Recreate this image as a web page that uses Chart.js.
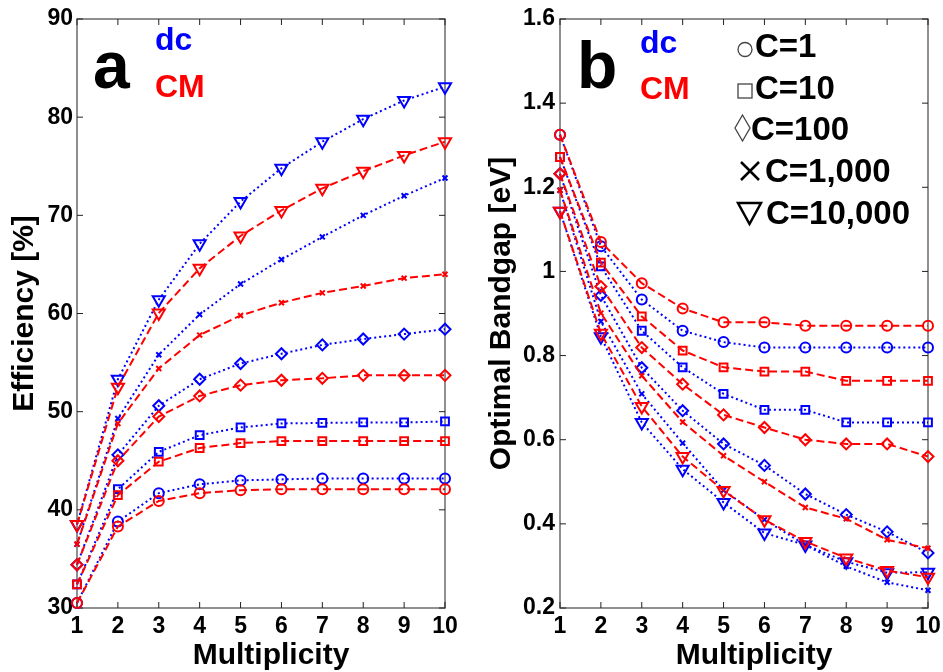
<!DOCTYPE html>
<html lang="en">
<head>
    <meta charset="UTF-8">
    <title>Multiplicity: efficiency and optimal bandgap</title>
    <script src="https://cdn.jsdelivr.net/npm/chart.js"></script>
    <style>
        body {
            margin: 0;
            background: #ffffff;
            width: 943px;
            height: 672px;
            overflow: hidden;
            position: relative;
        }
        .panel {
            position: absolute;
            top: 0;
            height: 672px;
        }
        #panelA { left: 0; width: 470px; }
        #panelB { left: 470px; width: 473px; }
    </style>
</head>
<body>
    <div class="panel" id="panelA"><canvas id="effChart"></canvas></div>
    <div class="panel" id="panelB"><canvas id="gapChart"></canvas></div>

    <script>
        const multiplicity = [1, 2, 3, 4, 5, 6, 7, 8, 9, 10];
        const concentrations = ["C=1", "C=10", "C=100", "C=1,000", "C=10,000"];

        // Efficiency [%], CM = carrier multiplication, dc = down-conversion
        const effCM_C1     = [30.5, 38.3, 40.9, 41.7, 42.0, 42.1, 42.1, 42.1, 42.1, 42.1];
        const effDC_C1     = [30.5, 38.8, 41.7, 42.6, 43.0, 43.1, 43.2, 43.2, 43.2, 43.2];
        const effCM_C10    = [32.4, 41.5, 44.9, 46.3, 46.8, 47.0, 47.0, 47.0, 47.0, 47.0];
        const effDC_C10    = [32.4, 42.1, 45.9, 47.6, 48.4, 48.8, 48.85, 48.9, 48.9, 49.0];
        const effCM_C100   = [34.4, 45.0, 49.5, 51.6, 52.7, 53.2, 53.4, 53.7, 53.7, 53.7];
        const effDC_C100   = [34.4, 45.6, 50.6, 53.3, 54.9, 55.9, 56.8, 57.4, 57.9, 58.4];
        const effCM_C1000  = [36.5, 48.8, 54.4, 57.8, 59.8, 61.1, 62.1, 62.8, 63.6, 64.0];
        const effDC_C1000  = [36.5, 49.3, 55.8, 59.9, 63.0, 65.5, 67.8, 70.0, 72.0, 73.8];
        const effCM_C10000 = [38.5, 52.5, 60.05, 64.6, 67.9, 70.5, 72.75, 74.5, 76.1, 77.5];
        const effDC_C10000 = [38.5, 53.3, 61.4, 67.1, 71.4, 74.8, 77.5, 79.8, 81.7, 83.1];

        // Optimal bandgap [eV]
        const gapCM_C1     = [1.325, 1.070, 0.972, 0.912, 0.879, 0.879, 0.871, 0.871, 0.871, 0.871];
        const gapDC_C1     = [1.325, 1.060, 0.933, 0.859, 0.832, 0.819, 0.819, 0.819, 0.819, 0.819];
        const gapCM_C10    = [1.272, 1.021, 0.893, 0.812, 0.772, 0.762, 0.762, 0.740, 0.740, 0.740];
        const gapDC_C10    = [1.272, 1.012, 0.859, 0.772, 0.709, 0.671, 0.671, 0.641, 0.641, 0.641];
        const gapCM_C100   = [1.232, 0.964, 0.819, 0.732, 0.659, 0.629, 0.600, 0.590, 0.590, 0.560];
        const gapDC_C100   = [1.232, 0.943, 0.771, 0.669, 0.590, 0.539, 0.471, 0.422, 0.381, 0.331];
        const gapCM_C1000  = [1.193, 0.901, 0.752, 0.642, 0.562, 0.500, 0.439, 0.412, 0.362, 0.342];
        const gapDC_C1000  = [1.193, 0.881, 0.709, 0.592, 0.480, 0.410, 0.350, 0.299, 0.261, 0.242];
        const gapCM_C10000 = [1.143, 0.853, 0.679, 0.560, 0.479, 0.410, 0.358, 0.319, 0.289, 0.273];
        const gapDC_C10000 = [1.143, 0.845, 0.641, 0.530, 0.451, 0.378, 0.350, 0.310, 0.284, 0.285];

        const BLUE = "#0000ff";
        const RED = "#ff0000";
        const FONT = "'Liberation Sans', Arial, sans-serif";

        // marker per concentration: circle, square, diamond, x, down triangle
        const markers = [
            { style: "circle",   radius: 5,   rotation: 0 },
            { style: "rect",     radius: 5.5, rotation: 0 },
            { style: "rectRot",  radius: 5.5, rotation: 0 },
            { style: "crossRot", radius: 3.5, rotation: 0 },
            { style: "triangle", radius: 7,   rotation: 180 }
        ];

        function series(values, color, dashed, k) {
            return {
                label: (dashed ? "CM " : "dc ") + concentrations[k],
                data: multiplicity.map((m, i) => ({ x: m, y: values[i] })),
                borderColor: color,
                backgroundColor: "transparent",
                borderWidth: 2,
                borderDash: dashed ? [8, 4] : [2, 3],
                pointStyle: markers[k].style,
                pointRadius: markers[k].radius,
                pointRotation: markers[k].rotation,
                pointBorderColor: color,
                pointBackgroundColor: "transparent",
                pointBorderWidth: 2,
                tension: 0,
                clip: false,
                order: dashed ? 0 : 1
            };
        }

        // MATLAB style frame with inward ticks on all four sides,
        // x title drawn a little right of centre
        const framePlugin = {
            id: "frame",
            beforeDatasetsDraw(chart) {
                const { ctx, chartArea: a, scales } = chart;
                ctx.save();
                ctx.strokeStyle = "#6b6b6b";
                ctx.lineWidth = 1.5;
                ctx.strokeRect(a.left, a.top, a.right - a.left, a.bottom - a.top);
                ctx.strokeStyle = "#222222";
                ctx.lineWidth = 1;
                const len = 6;
                scales.x.ticks.forEach(t => {
                    const px = scales.x.getPixelForValue(t.value);
                    ctx.beginPath();
                    ctx.moveTo(px, a.bottom); ctx.lineTo(px, a.bottom - len);
                    ctx.moveTo(px, a.top); ctx.lineTo(px, a.top + len);
                    ctx.stroke();
                });
                scales.y.ticks.forEach(t => {
                    const py = scales.y.getPixelForValue(t.value);
                    ctx.beginPath();
                    ctx.moveTo(a.left, py); ctx.lineTo(a.left + len, py);
                    ctx.moveTo(a.right, py); ctx.lineTo(a.right - len, py);
                    ctx.stroke();
                });
                ctx.font = "bold 30px " + FONT;
                ctx.fillStyle = "#000000";
                ctx.textAlign = "center";
                ctx.textBaseline = "alphabetic";
                ctx.fillText("Multiplicity", (a.left + a.right) / 2 + 10, 664);
                ctx.restore();
            }
        };

        // panel letter plus dc / CM key
        function annotations(letter, letterX, keyX, dcY, cmY) {
            return {
                id: "notes" + letter,
                afterDraw(chart) {
                    const ctx = chart.ctx;
                    ctx.save();
                    ctx.textBaseline = "alphabetic";
                    ctx.textAlign = "left";
                    ctx.font = "bold 66px " + FONT;
                    ctx.fillStyle = "#000000";
                    ctx.fillText(letter, letterX, 88);
                    ctx.font = "bold 32px " + FONT;
                    ctx.fillStyle = BLUE;
                    ctx.fillText("dc", keyX, dcY);
                    ctx.fillStyle = RED;
                    ctx.fillText("CM", keyX, cmY);
                    ctx.restore();
                }
            };
        }

        // marker key for the concentrations (panel b)
        const markerKey = {
            id: "markerKey",
            afterDraw(chart) {
                const ctx = chart.ctx;
                const ox = -470;
                ctx.save();
                ctx.strokeStyle = "#444444";
                ctx.lineWidth = 1.3;
                // circle
                ctx.beginPath();
                ctx.arc(745 + ox, 49.5, 7, 0, Math.PI * 2);
                ctx.stroke();
                // square
                ctx.strokeRect(738 + ox, 84, 14, 14);
                // diamond
                ctx.beginPath();
                ctx.moveTo(742.5 + ox, 115); ctx.lineTo(750 + ox, 128);
                ctx.lineTo(742.5 + ox, 141); ctx.lineTo(735 + ox, 128);
                ctx.closePath();
                ctx.stroke();
                // cross
                ctx.strokeStyle = "#000000";
                ctx.lineWidth = 2.5;
                ctx.beginPath();
                ctx.moveTo(741 + ox, 162); ctx.lineTo(759 + ox, 180);
                ctx.moveTo(759 + ox, 162); ctx.lineTo(741 + ox, 180);
                ctx.stroke();
                // down triangle
                ctx.lineWidth = 2.5;
                ctx.beginPath();
                ctx.moveTo(738 + ox, 203); ctx.lineTo(761 + ox, 203);
                ctx.lineTo(749.5 + ox, 224);
                ctx.closePath();
                ctx.stroke();

                ctx.font = "bold 33px " + FONT;
                ctx.fillStyle = "#000000";
                ctx.textAlign = "left";
                ctx.textBaseline = "alphabetic";
                const pos = [[755, 57], [755, 99], [751, 140], [765, 182], [766, 224]];
                concentrations.forEach((c, i) => ctx.fillText(c, pos[i][0] + ox, pos[i][1]));
                ctx.restore();
            }
        };

        function axisOptions(opts) {
            return {
                x: {
                    type: "linear",
                    min: 1,
                    max: 10,
                    grid: { display: false, drawTicks: false },
                    border: { display: false },
                    ticks: {
                        stepSize: 1,
                        padding: 5,
                        color: "#000000",
                        font: { family: FONT, size: 23, weight: "bold" }
                    },
                    title: { display: false },
                    afterFit(scale) {
                        scale.height = 64;
                        scale.paddingLeft = 0;
                        scale.paddingRight = 0;
                    }
                },
                y: {
                    min: opts.min,
                    max: opts.max,
                    grid: { display: false, drawTicks: false },
                    border: { display: false },
                    ticks: {
                        stepSize: opts.step,
                        padding: opts.tickPad,
                        color: "#000000",
                        font: { family: FONT, size: 23, weight: "bold" },
                        callback: v => String(+v.toFixed(1))
                    },
                    title: {
                        display: true,
                        text: opts.title,
                        color: "#000000",
                        padding: { top: opts.titlePad, bottom: 0 },
                        font: { family: FONT, size: 30, weight: "bold" }
                    },
                    afterFit(scale) {
                        scale.width = opts.width;
                        scale.paddingTop = 0;
                        scale.paddingBottom = 0;
                    }
                }
            };
        }

        function baseOptions(scales, rightPad) {
            return {
                responsive: false,
                animation: false,
                devicePixelRatio: 1,
                layout: { padding: { top: 19, right: rightPad, bottom: 0, left: 0 } },
                plugins: { legend: { display: false }, tooltip: { enabled: false } },
                scales: scales
            };
        }

        const effSets = [
            series(effCM_C1, RED, true, 0), series(effCM_C10, RED, true, 1),
            series(effCM_C100, RED, true, 2), series(effCM_C1000, RED, true, 3),
            series(effCM_C10000, RED, true, 4),
            series(effDC_C1, BLUE, false, 0), series(effDC_C10, BLUE, false, 1),
            series(effDC_C100, BLUE, false, 2), series(effDC_C1000, BLUE, false, 3),
            series(effDC_C10000, BLUE, false, 4)
        ];

        const gapSets = [
            series(gapCM_C1, RED, true, 0), series(gapCM_C10, RED, true, 1),
            series(gapCM_C100, RED, true, 2), series(gapCM_C1000, RED, true, 3),
            series(gapCM_C10000, RED, true, 4),
            series(gapDC_C1, BLUE, false, 0), series(gapDC_C10, BLUE, false, 1),
            series(gapDC_C100, BLUE, false, 2), series(gapDC_C1000, BLUE, false, 3),
            series(gapDC_C10000, BLUE, false, 4)
        ];

        const canvasA = document.getElementById("effChart");
        canvasA.width = 470; canvasA.height = 672;
        new Chart(canvasA, {
            type: "line",
            data: { datasets: effSets },
            options: baseOptions(axisOptions({
                min: 30, max: 90, step: 10, tickPad: 4, width: 77,
                title: "Efficiency [%]", titlePad: 7
            }), 25),
            plugins: [framePlugin, annotations("a", 93, 155, 50, 97)]
        });

        const canvasB = document.getElementById("gapChart");
        canvasB.width = 473; canvasB.height = 672;
        new Chart(canvasB, {
            type: "line",
            data: { datasets: gapSets },
            options: baseOptions(axisOptions({
                min: 0.2, max: 1.6, step: 0.2, tickPad: 5, width: 90,
                title: "Optimal Bandgap [eV]", titlePad: 14
            }), 15),
            plugins: [framePlugin, annotations("b", 107, 170, 53, 99), markerKey]
        });
    </script>
</body>
</html>
